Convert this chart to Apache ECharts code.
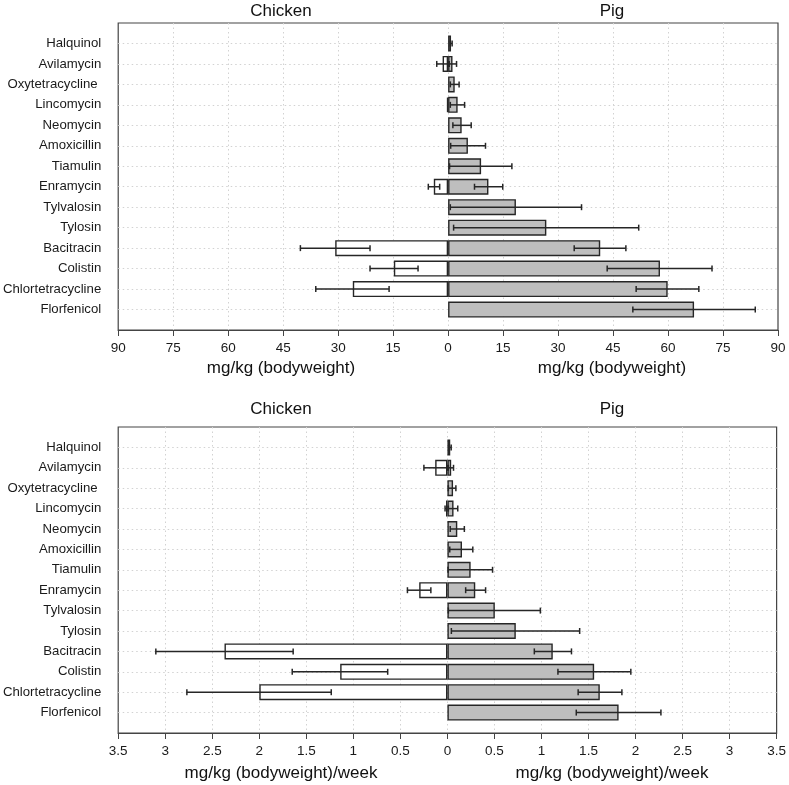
<!DOCTYPE html>
<html>
<head>
<meta charset="utf-8">
<script src="https://cdn.jsdelivr.net/npm/echarts@6/dist/echarts.min.js"></script>
<style>html,body{margin:0;padding:0;background:#fff}#c{width:789px;height:785px}</style>
</head>
<body>
<div id="c"></div>
<script>
// ---- data ----
var categories = ['Halquinol','Avilamycin','Oxytetracycline ','Lincomycin','Neomycin','Amoxicillin','Tiamulin','Enramycin','Tylvalosin','Tylosin','Bacitracin','Colistin','Chlortetracycline','Florfenicol'];

// top panel: mg/kg (bodyweight)
var pigDose      = [0.8, 1.2, 1.8, 2.6, 3.7, 5.4, 9.0, 11.0, 18.5, 26.8, 41.5, 57.8, 59.9, 67.1];
var pigDoseLow   = [0.6, 0.3, 0.6, 0.6, 1.3, 0.7, 0.4, 7.2, 0.6, 1.5, 34.4, 43.4, 51.3, 50.4];
var pigDoseHigh  = [1.1, 2.3, 3.0, 4.5, 6.3, 10.2, 17.4, 14.9, 36.4, 52.0, 48.5, 72.0, 68.4, 83.8];
var chickenDose      = [null, 1.5, null, 0.3, null, null, null, 3.9, null, null, 30.8, 14.8, 26.0, null];
var chickenDoseLow   = [null, 0.0, null, null, null, null, null, 2.3, null, null, 21.3, 8.2, 16.1, null];
var chickenDoseHigh  = [null, 3.1, null, null, null, null, null, 5.4, null, null, 40.3, 21.3, 36.1, null];

// bottom panel: mg/kg (bodyweight)/week
var pigWeek      = [0.03, 0.04, 0.06, 0.065, 0.105, 0.155, 0.247, 0.296, 0.504, 0.727, 1.12, 1.56, 1.62, 1.82];
var pigWeekLow   = [0.02, 0.01, 0.01, 0.01, 0.03, 0.025, 0.007, 0.194, 0.01, 0.042, 0.924, 1.175, 1.39, 1.37];
var pigWeekHigh  = [0.04, 0.065, 0.09, 0.11, 0.18, 0.27, 0.48, 0.406, 0.988, 1.406, 1.319, 1.95, 1.855, 2.27];
var chickenWeek      = [null, 0.13, null, 0.015, null, null, null, 0.30, null, null, 2.37, 1.14, 2.0, null];
var chickenWeekLow   = [null, 0.0, null, 0.005, null, null, null, 0.176, null, null, 1.64, 0.635, 1.235, null];
var chickenWeekHigh  = [null, 0.25, null, 0.025, null, null, null, 0.425, null, null, 3.10, 1.65, 2.77, null];

var doseTicks = {min: -90, max: 90, interval: 15};
var weekTicks = {min: -3.5, max: 3.5, interval: 0.5};

// ---- build ----
var padCats = [''].concat(categories).concat(['']);
function pad(arr, sign) {
  return [null].concat(arr.map(function (v) { return v == null ? null : sign * v; })).concat([null]);
}
function errData(lo, hi, sign) {
  var out = [];
  for (var i = 0; i < lo.length; i++) {
    if (lo[i] == null || hi[i] == null) continue;
    out.push([sign * lo[i], sign * hi[i], i + 1]);
  }
  return out;
}
var FONT = 'Liberation Sans, Arial, Helvetica, sans-serif';
var INK = '#262626';

function renderErr(params, api) {
  var a = api.coord([api.value(0), api.value(2)]);
  var b = api.coord([api.value(1), api.value(2)]);
  var h = 3;
  var st = {stroke: INK, lineWidth: 1.5};
  return {
    type: 'group',
    children: [
      {type: 'line', shape: {x1: a[0], y1: a[1], x2: b[0], y2: b[1]}, style: st},
      {type: 'line', shape: {x1: a[0], y1: a[1] - h, x2: a[0], y2: a[1] + h}, style: st},
      {type: 'line', shape: {x1: b[0], y1: b[1] - h, x2: b[0], y2: b[1] + h}, style: st}
    ]
  };
}

function xAxisDef(gi, t) {
  return {
    gridIndex: gi, type: 'value', min: t.min, max: t.max, interval: t.interval,
    axisLine: {show: true, onZero: false, lineStyle: {color: '#444', width: 1.2}},
    axisTick: {show: true, length: 6, lineStyle: {color: '#444', width: 1}},
    axisLabel: {color: '#1a1a1a', fontSize: 13.5, fontFamily: FONT, margin: 11,
      formatter: function (v) { return String(Math.round(Math.abs(v) * 10) / 10); }},
    splitLine: {show: true, showMinLine: false, showMaxLine: false,
      lineStyle: {type: [1.5, 3], color: '#d2d2d2', width: 1}}
  };
}
function yAxisDef(gi) {
  return {
    gridIndex: gi, type: 'category', data: padCats, inverse: true, boundaryGap: false,
    axisLine: {show: false}, axisTick: {show: false},
    axisLabel: {color: '#1a1a1a', fontSize: 13.2, fontFamily: FONT, margin: 17, interval: 0},
    splitLine: {show: true, interval: 0, showMinLine: false, showMaxLine: false,
      lineStyle: {type: [1.5, 3], color: '#d2d2d2', width: 1}}
  };
}
function barSeries(gi, data, fill) {
  return {
    type: 'bar', xAxisIndex: gi, yAxisIndex: gi, data: data, barWidth: 16, barGap: '-100%',
    itemStyle: {color: fill, borderColor: INK, borderWidth: 1.4},
    silent: true, z: 2
  };
}
function errSeries(gi, data) {
  return {type: 'custom', xAxisIndex: gi, yAxisIndex: gi, data: data, renderItem: renderErr,
    encode: {x: [0, 1], y: 2}, silent: true, z: 5};
}
function txt(x, y, s, size) {
  return {type: 'text', x: x, y: y, style: {text: s, fill: '#111', font: size + 'px ' + FONT,
    textAlign: 'center', textVerticalAlign: 'middle'}};
}

var chart = echarts.init(document.getElementById('c'), null, {renderer: 'canvas'});
chart.setOption({
  animation: false,
  backgroundColor: '#fff',
  grid: [
    {left: 116, top: 23, right: 11, height: 307, show: true, borderColor: '#444', borderWidth: 1.2, backgroundColor: 'transparent'},
    {left: 116, top: 427, right: 11, height: 306, show: true, borderColor: '#444', borderWidth: 1.2, backgroundColor: 'transparent'}
  ],
  xAxis: [xAxisDef(0, doseTicks), xAxisDef(1, weekTicks)],
  yAxis: [yAxisDef(0), yAxisDef(1)],
  series: [
    barSeries(0, pad(pigDose, 1), '#bebebe'),
    barSeries(0, pad(chickenDose, -1), '#ffffff'),
    errSeries(0, errData(pigDoseLow, pigDoseHigh, 1).concat(errData(chickenDoseLow, chickenDoseHigh, -1))),
    barSeries(1, pad(pigWeek, 1), '#bebebe'),
    barSeries(1, pad(chickenWeek, -1), '#ffffff'),
    errSeries(1, errData(pigWeekLow, pigWeekHigh, 1).concat(errData(chickenWeekLow, chickenWeekHigh, -1)))
  ],
  graphic: [
    txt(281, 11, 'Chicken', 17), txt(612, 11, 'Pig', 17),
    txt(281, 368, 'mg/kg (bodyweight)', 17), txt(612, 368, 'mg/kg (bodyweight)', 17),
    txt(281, 409, 'Chicken', 17), txt(612, 409, 'Pig', 17),
    txt(281, 773, 'mg/kg (bodyweight)/week', 17), txt(612, 773, 'mg/kg (bodyweight)/week', 17)
  ]
});
</script>
</body>
</html>
